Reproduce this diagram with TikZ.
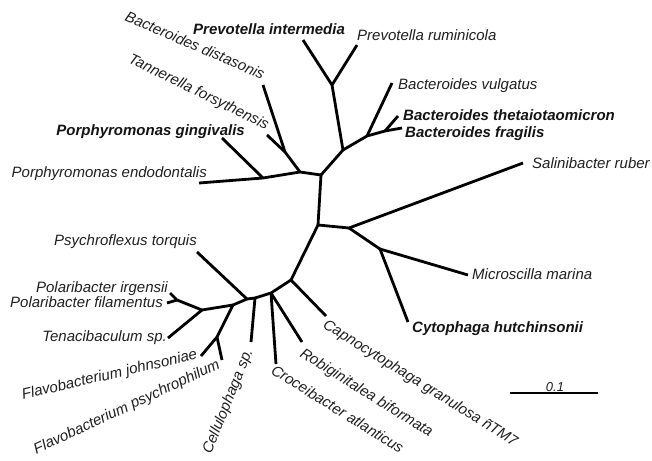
\documentclass[tikz,border=0pt]{standalone}
\usepackage{fontspec}
\setmainfont{Liberation Sans}
\tikzset{
  br/.style={line width=2.8pt, line join=round, black},
  lab/.style={font=\fontsize{15}{18}\selectfont\itshape, inner sep=0pt, text=black!88},
  blab/.style={font=\fontsize{15}{18}\selectfont\bfseries\itshape, inner sep=0pt, text=black!92},
}
\begin{document}
\begin{tikzpicture}[x=1pt,y=-1pt]
\useasboundingbox (0,0) rectangle (652,460);
% internal nodes
\coordinate (A) at (321,175);
\coordinate (B) at (300,172);
\coordinate (P) at (285,152);
\coordinate (C) at (263,178);
\coordinate (D) at (318,225);
\coordinate (E) at (349,228);
\coordinate (F) at (380,249);
\coordinate (G) at (291,280);
\coordinate (H) at (271,293);
\coordinate (I) at (255,298);
\coordinate (J) at (247,299);
\coordinate (K) at (233,305);
\coordinate (M) at (217,337);
\coordinate (L) at (202,310);
\coordinate (N) at (177,300);
\coordinate (Q) at (343,150);
\coordinate (R) at (332,85);
\coordinate (S) at (367,136);
\coordinate (T) at (385,131);
% tips
\coordinate (endo) at (199,183);
\coordinate (ging) at (222,138);
\coordinate (tann) at (267,135);
\coordinate (dist) at (263,85);
\coordinate (interm) at (303,40);
\coordinate (rumin) at (357,45);
\coordinate (vulg) at (392,83);
\coordinate (theta) at (398,116);
\coordinate (frag) at (402,128);
\coordinate (salin) at (523,163);
\coordinate (micro) at (468,275);
\coordinate (cyto) at (408,322);
\coordinate (capno) at (326,316);
\coordinate (robig) at (302,342);
\coordinate (croc) at (276,364);
\coordinate (cellu) at (251,342);
\coordinate (psychro) at (197,252);
\coordinate (johns) at (201,356);
\coordinate (psyphil) at (222,360);
\coordinate (tenac) at (168,338);
\coordinate (irg) at (170,293);
\coordinate (fil) at (167,303);
% branches
\draw[br] (A) -- (D);
\draw[br] (A) -- (B);
\draw[br] (A) -- (Q);
\draw[br] (B) -- (P);
\draw[br] (B) -- (C);
\draw[br] (P) -- (tann);
\draw[br] (P) -- (dist);
\draw[br] (C) -- (endo);
\draw[br] (C) -- (ging);
\draw[br] (Q) -- (R);
\draw[br] (Q) -- (S);
\draw[br] (R) -- (interm);
\draw[br] (R) -- (rumin);
\draw[br] (S) -- (vulg);
\draw[br] (S) -- (T);
\draw[br] (T) -- (theta);
\draw[br] (T) -- (frag);
\draw[br] (D) -- (E);
\draw[br] (D) -- (G);
\draw[br] (E) -- (salin);
\draw[br] (E) -- (F);
\draw[br] (F) -- (micro);
\draw[br] (F) -- (cyto);
\draw[br] (G) -- (capno);
\draw[br] (G) -- (H);
\draw[br] (H) -- (robig);
\draw[br] (H) -- (croc);
\draw[br] (H) -- (I);
\draw[br] (I) -- (cellu);
\draw[br] (I) -- (J);
\draw[br] (J) -- (psychro);
\draw[br] (J) -- (K);
\draw[br] (K) -- (M);
\draw[br] (K) -- (L);
\draw[br] (M) -- (johns);
\draw[br] (M) -- (psyphil);
\draw[br] (L) -- (tenac);
\draw[br] (L) -- (N);
\draw[br] (N) -- (irg);
\draw[br] (N) -- (fil);
% labels
\node[blab, anchor=base west] (lInterm) at (193,35) {Prevotella intermedia};
\node[lab, anchor=base west] (lRumin) at (357,41) {Prevotella ruminicola};
\node[lab, anchor=base west] (lVulg) at (398,89) {Bacteroides vulgatus};
\node[blab, anchor=base west] (lTheta) at (403,120) {Bacteroides thetaiotaomicron};
\node[blab, anchor=base west] (lFrag) at (405,137) {Bacteroides fragilis};
\node[lab, anchor=base west] (lSalin) at (532,168) {Salinibacter ruber};
\node[lab, anchor=base west] (lMicro) at (472,279) {Microscilla marina};
\node[blab, anchor=base west] (lCyto) at (412,332) {Cytophaga hutchinsonii};
\node[blab, anchor=base east] (lGing) at (245,135) {Porphyromonas gingivalis};
\node[lab, anchor=base east] (lEndo) at (207,177) {Porphyromonas endodontalis};
\node[lab, anchor=base east] (lPsychro) at (197,245) {Psychroflexus torquis};
\node[lab, anchor=base east] (lIrg) at (168,292) {Polaribacter irgensii};
\node[lab, anchor=base east] (lFil) at (163,307) {Polaribacter filamentus};
\node[lab, anchor=base east] (lTenac) at (167,341) {Tenacibaculum sp.};
\node[lab, anchor=base east, rotate=-23.5] (lDist) at (262,80) {Bacteroides distasonis};
\node[lab, anchor=base east, rotate=-26] (lTann) at (266,130) {Tannerella forsythensis};
\node[lab, anchor=base east, rotate=13] (lJohns) at (198,359) {Flavobacterium johnsoniae};
\node[lab, anchor=base east, rotate=25] (lPsyphil) at (221,368) {Flavobacterium psychrophilum};
\node[lab, anchor=base east, rotate=68] (lCellu) at (253,351) {Cellulophaga sp.};
\node[lab, anchor=base west, rotate=-32] (lCroc) at (270,373) {Croceibacter atlanticus};
\node[lab, anchor=base west, rotate=-32] (lRobig) at (299,356) {Robiginitalea biformata};
\node[lab, anchor=base west, rotate=-32] (lCapno) at (322,327) {Capnocytophaga granulosa ñTM7};
% scale bar
\coordinate (s1) at (510,393);
\coordinate (s2) at (598,393);
\draw[br] (s1) -- (s2);
\node[font=\fontsize{13}{14}\selectfont\itshape, inner sep=0pt, anchor=base, text=black!88] (lScale) at (555,391) {0.1};
\end{tikzpicture}
\end{document}
